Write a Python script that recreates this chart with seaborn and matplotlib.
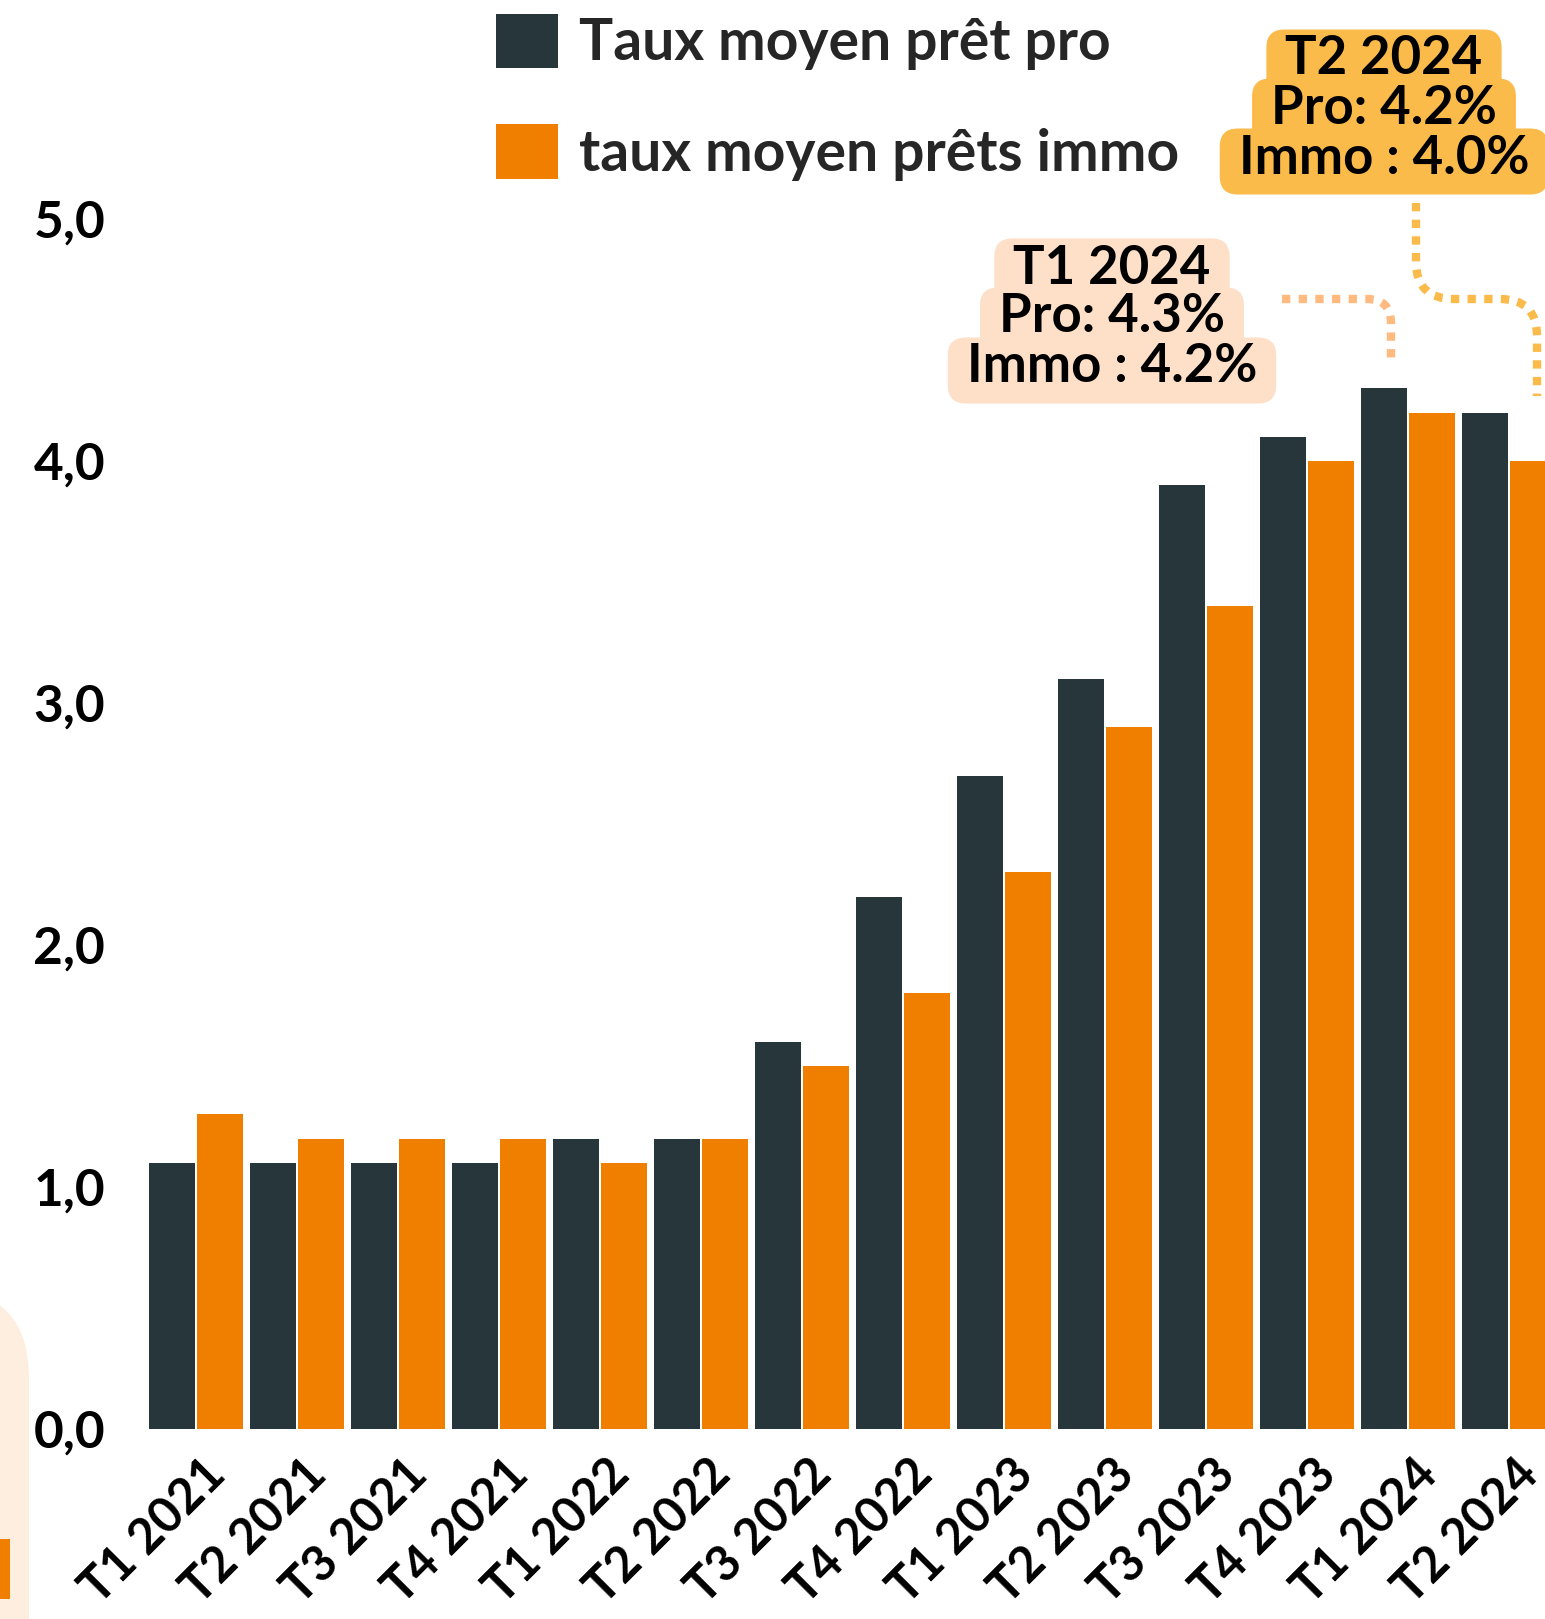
import matplotlib
matplotlib.use("Agg")
import matplotlib.pyplot as plt
import matplotlib.transforms as mtransforms
from matplotlib.path import Path
from matplotlib.patches import PathPatch, FancyBboxPatch, Rectangle, Patch
import seaborn as sns
import pandas as pd

# ---- data ----
quarters = ["T1 2021", "T2 2021", "T3 2021", "T4 2021", "T1 2022", "T2 2022", "T3 2022",
            "T4 2022", "T1 2023", "T2 2023", "T3 2023", "T4 2023", "T1 2024", "T2 2024"]
taux_pro = [1.1, 1.1, 1.1, 1.1, 1.2, 1.2, 1.6, 2.2, 2.7, 3.1, 3.9, 4.1, 4.3, 4.2]
taux_immo = [1.3, 1.2, 1.2, 1.2, 1.1, 1.2, 1.5, 1.8, 2.3, 2.9, 3.4, 4.0, 4.2, 4.0]
series_names = ["Taux moyen prêt pro", "taux moyen prêts immo"]
y_ticks = [0, 1, 2, 3, 4, 5]

DARK = "#26363A"
ORANGE = "#F07F00"
PEACH = "#FEDFC7"
GOLD = "#FBBB4A"

df = pd.DataFrame({
    "quarter": quarters * 2,
    "value": taux_pro + taux_immo,
    "serie": [series_names[0]] * len(quarters) + [series_names[1]] * len(quarters),
})

sns.set_theme(style="white")
FONT = ["Lato", "DejaVu Sans"]
plt.rcParams["font.family"] = FONT

W, H = 1545, 1619
fig = plt.figure(figsize=(W / 100, H / 100), dpi=100)
fig.patch.set_facecolor("white")

def fx(px):
    return px / W

def fy(py):
    return 1 - py / H

# decorations bottom-left
fig.patches.append(FancyBboxPatch((fx(-200), fy(1750)), fx(229), fy(1290) - fy(1750),
                                  boxstyle="round,pad=0,rounding_size=0.055",
                                  transform=fig.transFigure, fc="#FEEEDF", ec="none", zorder=0))
fig.patches.append(Rectangle((fx(0), fy(1599)), fx(10), fy(1539) - fy(1599),
                             transform=fig.transFigure, fc=ORANGE, ec="none", zorder=1))

ax_left, y0_px, px_per_unit, xc0, px_per_group = 130, 1429, 242, 196, 101
ax = fig.add_axes([fx(ax_left), fy(y0_px), 1 - fx(ax_left), 1 - fy(y0_px)])
ax.set_facecolor("none")

sns.barplot(data=df, x="quarter", y="value", hue="serie", order=quarters,
            hue_order=series_names, palette=[DARK, ORANGE], saturation=1,
            width=0.95, gap=0.06, linewidth=0, ax=ax, legend=False)

ax.set_xlim((ax_left - xc0) / px_per_group, (W - xc0) / px_per_group)
ax.set_ylim(0, y0_px / px_per_unit)
for s in ax.spines.values():
    s.set_visible(False)
ax.set_xlabel("")
ax.set_ylabel("")
ax.set_yticks(y_ticks)
ax.set_yticklabels([f"{v:.1f}".replace(".", ",") for v in y_ticks],
                   fontsize=37, fontweight="bold", color="black")
ax.tick_params(axis="y", length=0, pad=18)
ax.tick_params(axis="x", length=0, pad=10)
ax.set_xticks(range(len(quarters)))
ax.set_xticklabels(quarters, rotation=45, ha="right", va="center", rotation_mode="anchor",
                   fontsize=35, fontweight="bold", color="black")
offset = mtransforms.ScaledTranslation(22 / 100, -24 / 100, fig.dpi_scale_trans)
for lab in ax.get_xticklabels():
    lab.set_transform(lab.get_transform() + offset)

# legend
handles = [Patch(facecolor=DARK, edgecolor="none"), Patch(facecolor=ORANGE, edgecolor="none")]
leg = fig.legend(handles, series_names, loc="upper left",
                 bbox_to_anchor=(fx(490), fy(8)), frameon=False,
                 prop={"family": FONT, "size": 41, "weight": "bold"},
                 handlelength=1.1, handleheight=1.1, handletextpad=0.36,
                 labelspacing=0.95, borderpad=0.1, borderaxespad=0)

# annotation callouts: texts first, then rounded backgrounds behind them
callout_texts = []

def callout(cx, ys, lines, color):
    for y, t in zip(ys, lines):
        txt = fig.text(fx(cx), fy(y), t, ha="center", va="center", fontsize=38,
                       fontweight="bold", color="black", zorder=6)
        callout_texts.append((txt, color))

callout(1112, [268, 317, 367], ["T1 2024", "Pro: 4.3%", "Immo : 4.2%"], PEACH)
callout(1384, [59, 108, 158], ["T2 2024", "Pro: 4.2%", "Immo : 4.0%"], GOLD)

fig.canvas.draw()
renderer = fig.canvas.get_renderer()
for txt, color in callout_texts:
    bb = txt.get_window_extent(renderer)
    padx, pad_top, pad_bot = 19, 5, 12
    fig.patches.append(FancyBboxPatch((bb.x0 - padx, bb.y0 - pad_bot),
                                      bb.width + 2 * padx, bb.height + pad_top + pad_bot,
                                      boxstyle="round,pad=0,rounding_size=18",
                                      transform=mtransforms.IdentityTransform(),
                                      fc=color, ec="none", zorder=2))

def connector(pts, codes, color):
    verts = [(fx(x), fy(y)) for x, y in pts]
    p = PathPatch(Path(verts, codes), transform=fig.transFigure, fill=False,
                  ec=color, lw=6, linestyle=(0, (1, 1)), capstyle="butt", zorder=3)
    fig.patches.append(p)

M, L, C = Path.MOVETO, Path.LINETO, Path.CURVE3
connector([(1282, 299), (1367, 299), (1391, 299), (1391, 323), (1391, 363)],
          [M, L, C, C, L], "#FFBA80")
connector([(1416, 203), (1416, 262), (1416, 299), (1454, 299), (1500, 299),
           (1537, 299), (1537, 336), (1537, 396)],
          [M, L, C, C, L, C, C, L], GOLD)

fig.savefig("out.png", dpi=100, facecolor="white")
